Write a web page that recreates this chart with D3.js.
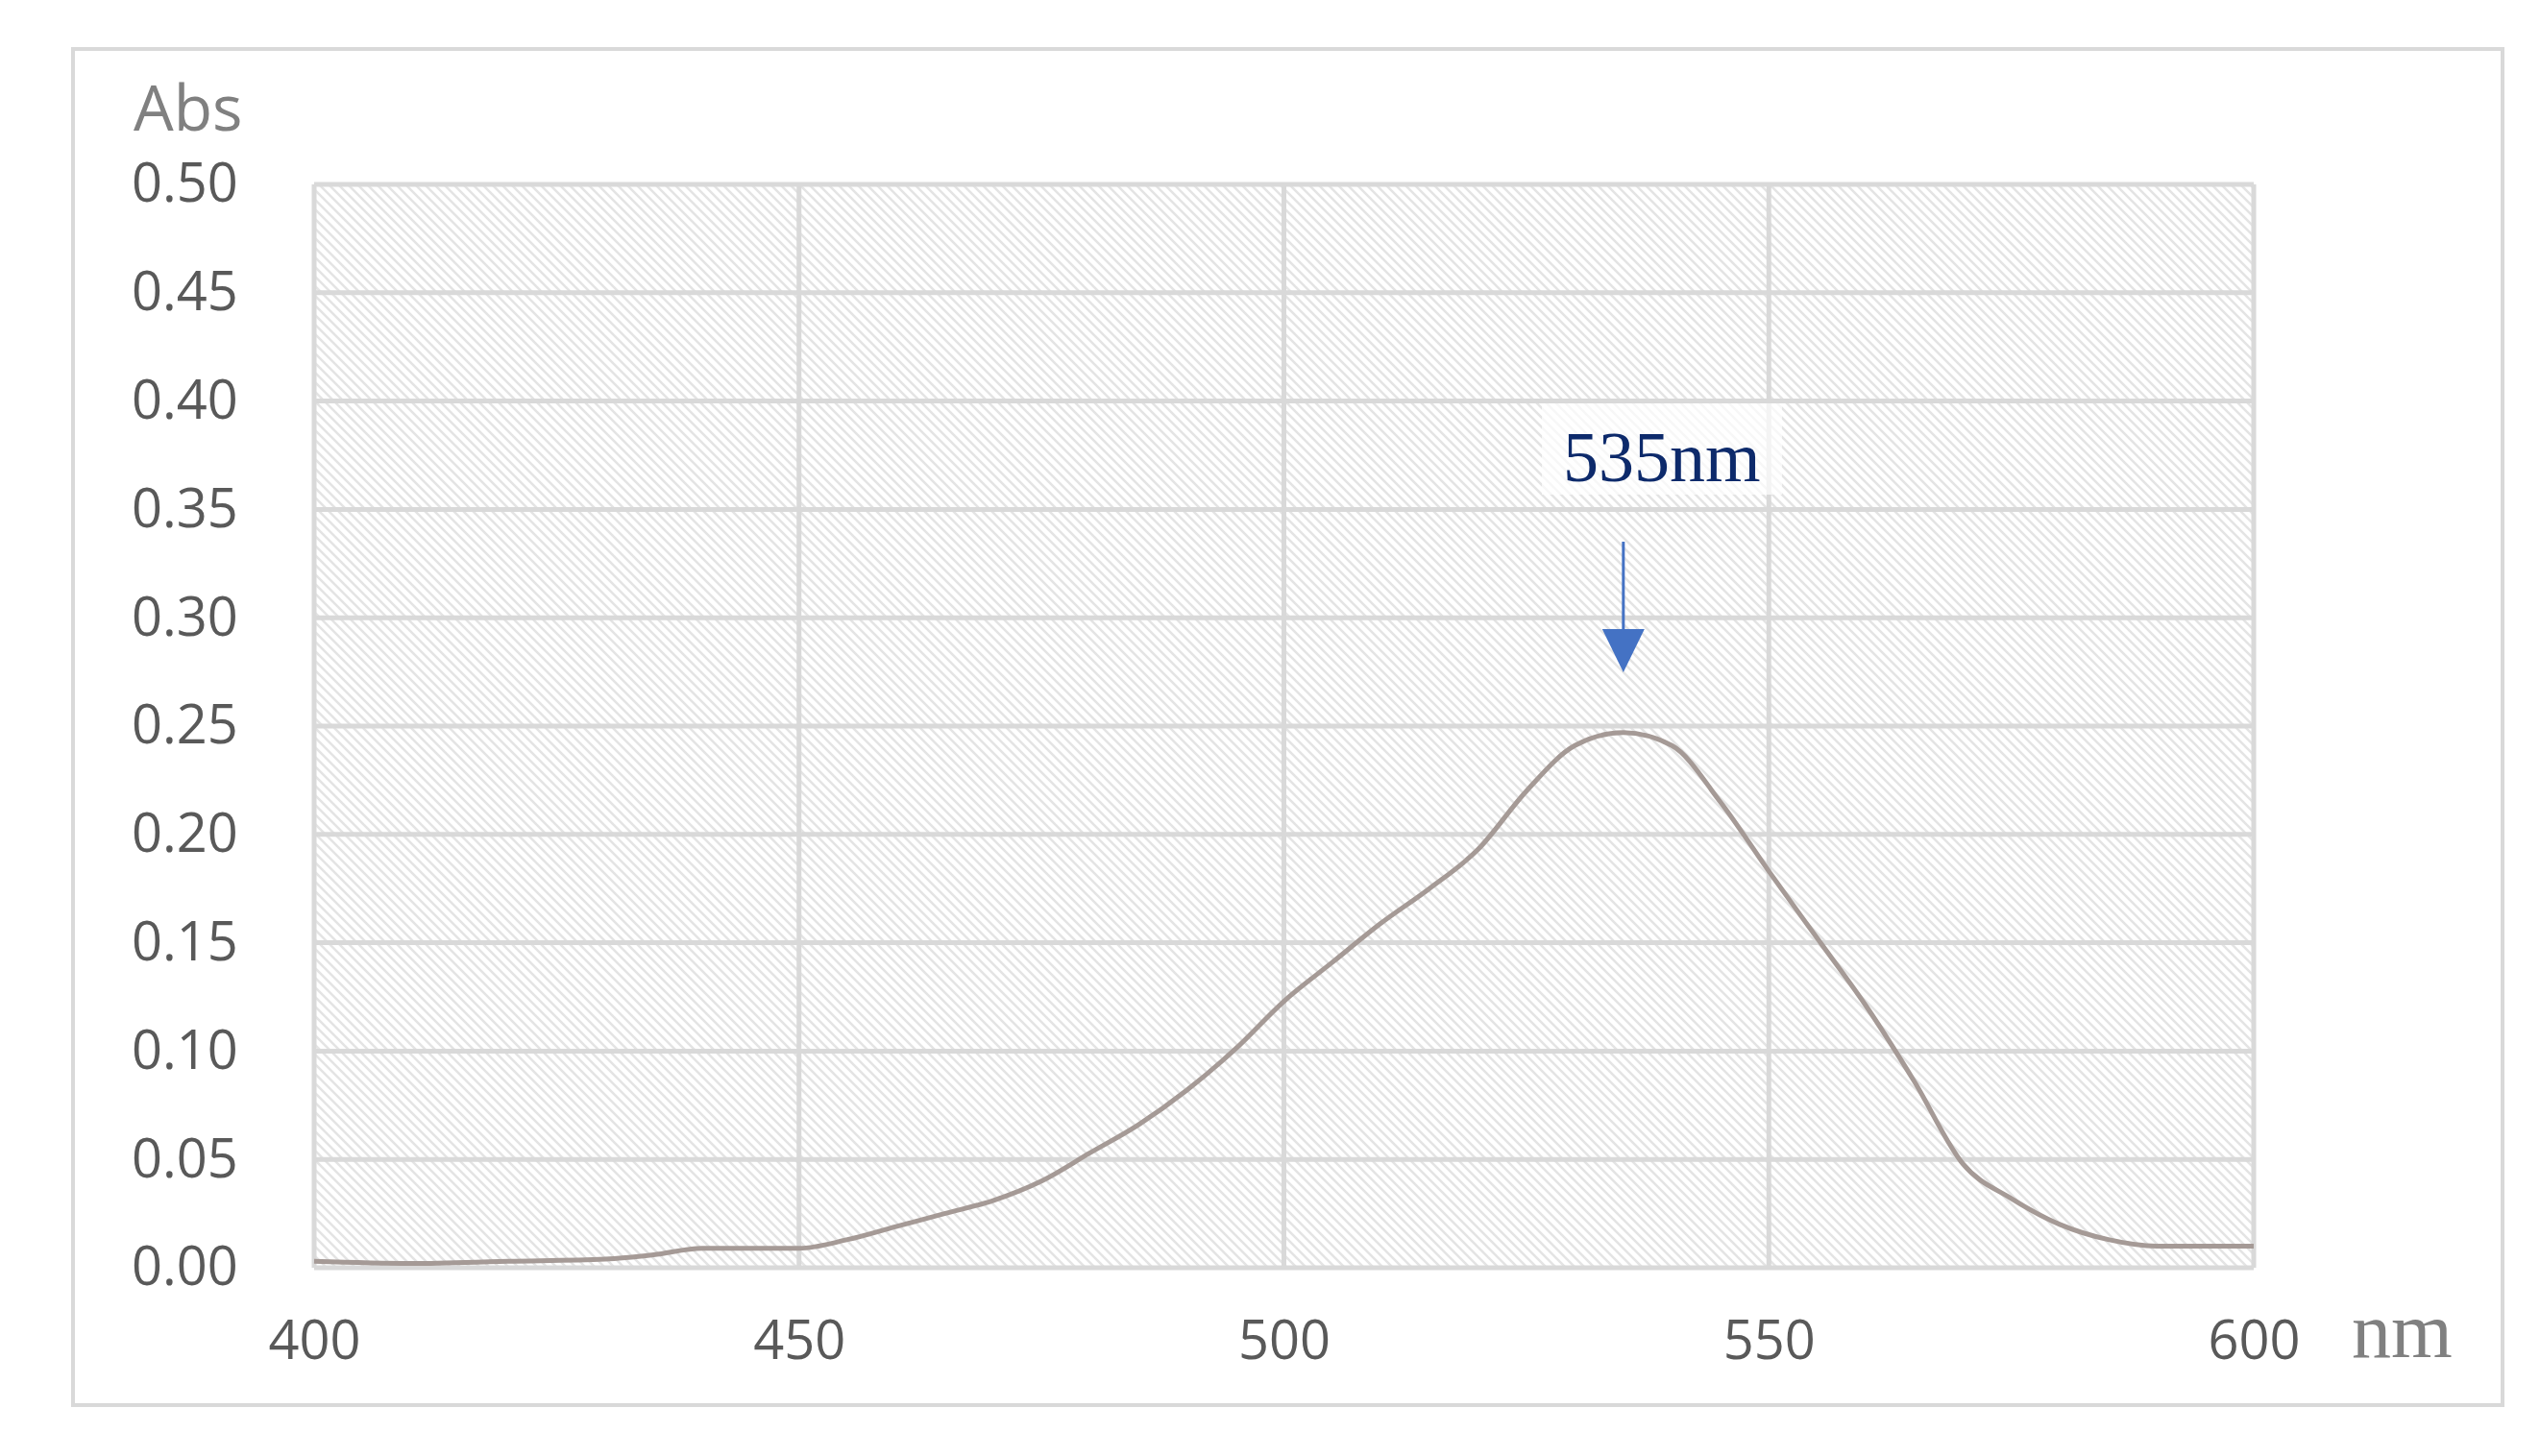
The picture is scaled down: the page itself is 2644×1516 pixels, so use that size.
<!DOCTYPE html><html><head><meta charset="utf-8">
<script src="https://cdn.jsdelivr.net/npm/d3@7"></script>
<style>body{margin:0;background:#fff}</style></head><body>
<svg id="c" width="2644" height="1516"></svg>
<script>
const wavelengths=[400,410,420,430,435,440,445,450,455,460,465,470,475,480,485,490,495,500,505,510,515,520,525,530,535,540,545,550,555,560,565,570,575,580,585,590,595,600];
const absorbance=[0.003,0.002,0.003,0.004,0.006,0.009,0.009,0.009,0.013,0.019,0.025,0.031,0.040,0.053,0.066,0.082,0.101,0.123,0.141,0.159,0.175,0.193,0.220,0.241,0.247,0.241,0.215,0.183,0.152,0.121,0.086,0.048,0.032,0.020,0.013,0.010,0.010,0.010];
const xTicks=[400,450,500,550,600];
const yTicks=[0,0.05,0.10,0.15,0.20,0.25,0.30,0.35,0.40,0.45,0.50];
const peak={nm:535,label:"535nm"};
const svg=d3.select("#c");
const L=327,R=2346,T=192,B=1320;
const x=d3.scaleLinear().domain([400,600]).range([L,R]);
const y=d3.scaleLinear().domain([0,0.5]).range([B,T]);
svg.append("rect").attr("x",76).attr("y",51).attr("width",2529).attr("height",1412).attr("fill","#fff").attr("stroke","#d9d9d9").attr("stroke-width",4);
const defs=svg.append("defs");
const p=defs.append("pattern").attr("id","h").attr("patternUnits","userSpaceOnUse").attr("width",10).attr("height",10);
p.append("rect").attr("width",10).attr("height",10).attr("fill","#fff");
p.append("path").attr("d","M-2,-2L12,12M-2,8L2,12M8,-2L12,2").attr("stroke","#e4e4e4").attr("stroke-width",2.5);
svg.append("rect").attr("x",L).attr("y",T).attr("width",R-L).attr("height",B-T).attr("fill","url(#h)");
const g=svg.append("g");
g.selectAll(".gy").data(yTicks).join("line").attr("x1",L).attr("x2",R).attr("y1",d=>y(d)).attr("y2",d=>y(d)).attr("stroke","#d9d9d9").attr("stroke-width",5);
g.selectAll(".gx").data(xTicks).join("line").attr("y1",T).attr("y2",B).attr("x1",d=>x(d)).attr("x2",d=>x(d)).attr("stroke","#d9d9d9").attr("stroke-width",5);
const ya=svg.append("g").attr("transform",`translate(${L},0)`).call(d3.axisLeft(y).tickValues(yTicks).tickFormat(d3.format(".2f")).tickSize(0).tickPadding(65));
const xa=svg.append("g").attr("transform",`translate(0,${B})`).call(d3.axisBottom(x).tickValues(xTicks).tickSize(0).tickPadding(55));
[ya,xa].forEach(a=>{a.select(".domain").remove();a.selectAll("text").attr("font-family","'Open Sans',sans-serif").attr("font-size",56).attr("fill","#595959");});
ya.selectAll("text").attr("text-anchor","start").attr("x",-190);
svg.append("text").attr("x",139).attr("y",136).text("Abs").attr("font-family","'Open Sans',sans-serif").attr("font-size",66).attr("fill","#808080");
svg.append("text").attr("x",2448).attr("y",1413).text("nm").attr("font-family","'Liberation Serif',serif").attr("font-size",82).attr("fill","#808080");
svg.append("path").datum(wavelengths.map((w,i)=>[w,absorbance[i]])).attr("d",d3.line().x(d=>x(d[0])).y(d=>y(d[1])).curve(d3.curveMonotoneX)).attr("fill","none").attr("stroke","#a59a96").attr("stroke-width",5);
svg.append("rect").attr("x",1605).attr("y",420).attr("width",250).attr("height",95).attr("fill","#fff").attr("opacity",0.7);
svg.append("text").attr("x",x(peak.nm)+40).attr("y",501).attr("text-anchor","middle").text(peak.label).attr("font-family","'Liberation Serif',serif").attr("font-size",74).attr("fill","#0d2a6b");
const ax=x(peak.nm);
svg.append("line").attr("x1",ax).attr("x2",ax).attr("y1",564).attr("y2",660).attr("stroke","#4472c4").attr("stroke-width",3);
svg.append("path").attr("d",`M${ax-22},655L${ax+22},655L${ax},700Z`).attr("fill","#4472c4");
</script></body></html>
